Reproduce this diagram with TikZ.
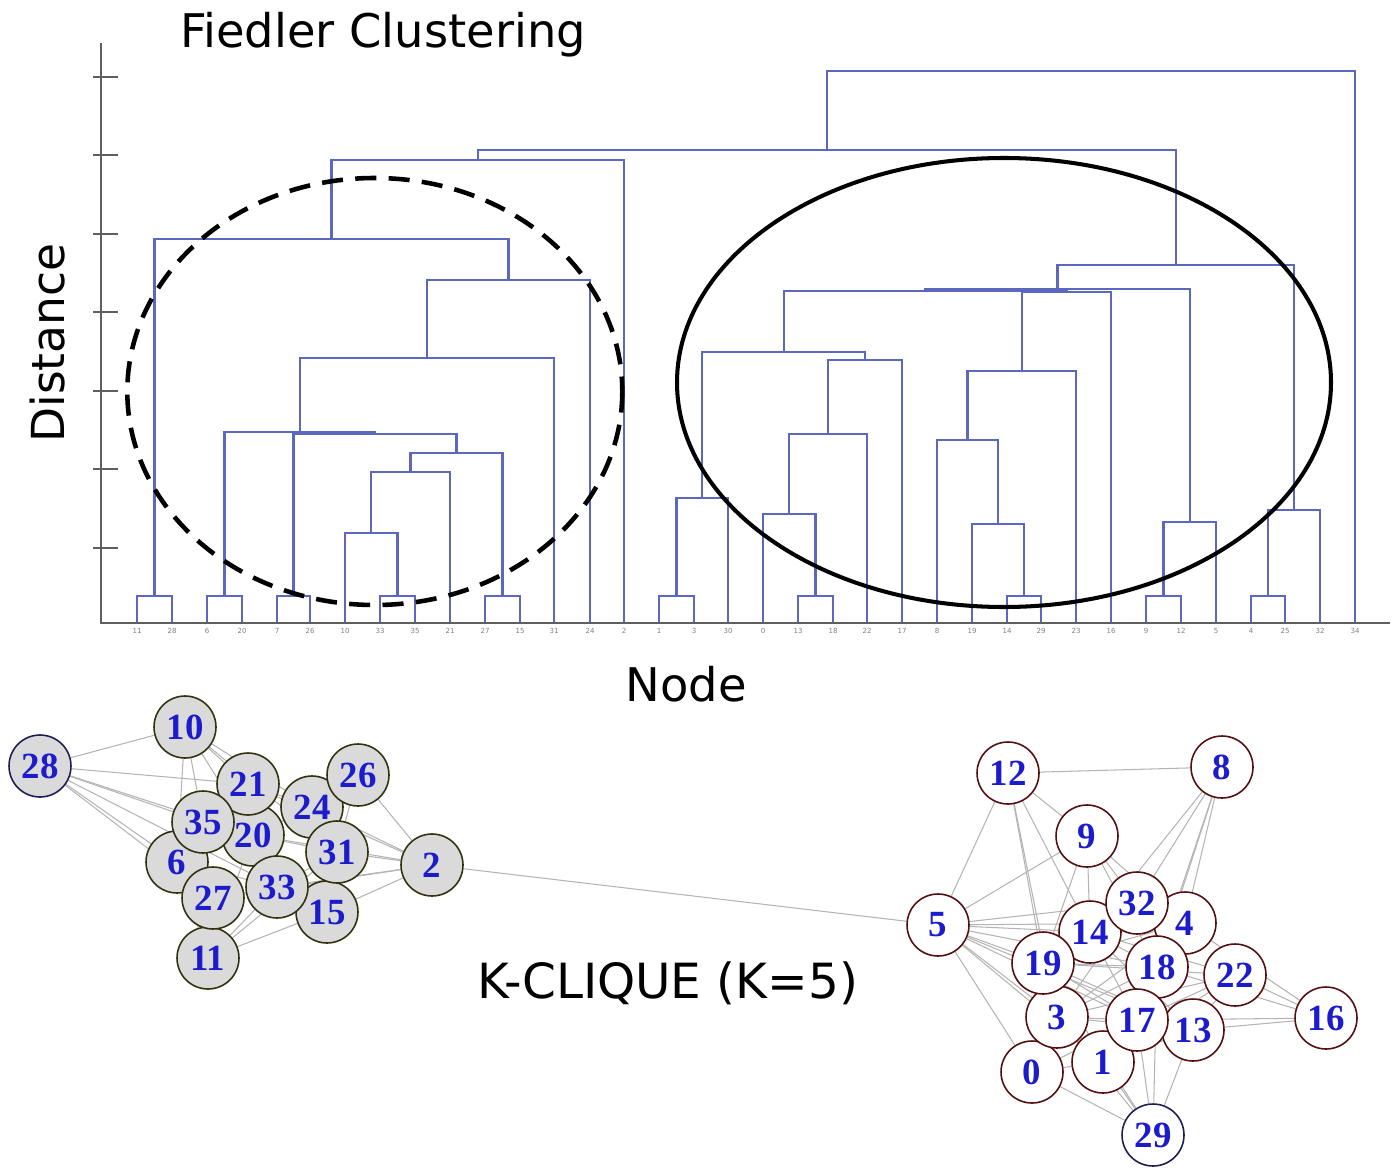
\documentclass[tikz,border=0pt]{standalone}
\usepackage{fontspec}
\setmainfont{DejaVu Sans}
\newfontfamily\numfont{Liberation Serif}
\usetikzlibrary{backgrounds}

\definecolor{dendro}{RGB}{92,104,190}
\definecolor{axisgray}{RGB}{95,95,95}
\definecolor{wiregray}{RGB}{180,180,180}
\definecolor{nodeblue}{RGB}{28,28,205}
\definecolor{oliverim}{RGB}{50,50,15}
\definecolor{redrim}{RGB}{85,15,15}
\definecolor{navyrim}{RGB}{30,30,85}
\definecolor{lightfill}{RGB}{218,218,218}

\begin{document}
\begin{tikzpicture}[x=0.02cm,y=-0.02cm]
		\tikzstyle{link} = [draw=dendro, line width=1.3pt]
		\tikzstyle{axisline} = [draw=axisgray, line width=1.7pt]
		\tikzstyle{tickmark} = [draw=axisgray, line width=1.1pt]
		\tikzstyle{leaflabel} = [text=gray, inner sep=0pt, font=\fontsize{4}{4}\selectfont]
		\tikzstyle{caption} = [inner sep=0pt, anchor=base, font=\fontsize{25.5}{30}\selectfont]
		\tikzstyle{wire} = [draw=wiregray, line width=0.6pt]
		\tikzstyle{vertex} = [circle, line width=0.9pt, minimum size=1.24cm, inner sep=0pt, text=nodeblue, font={\numfont\bfseries\fontsize{21}{21}\selectfont}]
		\tikzstyle{grayvertex} = [vertex, draw=oliverim, fill=lightfill]
		\tikzstyle{redvertex} = [vertex, draw=redrim, fill=white]

		\useasboundingbox (0,0) rectangle (1392,1169);

		% axes
		\draw[axisline] (101,43) -- (101,623) -- (1390,623);
		\foreach \t in {77,155,234,312,391,469,548}
			\draw[tickmark] (93,\t) -- (118,\t);
		\foreach \x/\lab in {137/11,172/28,207/6,242/20,277/7,310/26,345/10,380/33,415/35,450/21,485/27,520/15,554/31,590/24,624/2,
			659/1,694/3,728/30,763/0,798/13,833/18,867/22,902/17,937/8,972/19,1007/14,1041/29,1076/23,1111/16,1146/9,1181/12,1216/5,1251/4,1285/25,1320/32,1355/34}
			\node[leaflabel] (T\lab) at (\x,631) {\lab};

		% left part of the tree
		\draw[link] (137,622) |- (172,596) -- (172,622);
		\draw[link] (207,622) |- (242,596) -- (242,622);
		\draw[link] (277,622) |- (310,596) -- (310,622);
		\draw[link] (380,622) |- (415,596) -- (415,622);
		\draw[link] (485,622) |- (520,596) -- (520,622);
		\draw[link] (345,622) |- (397.5,533) -- (397.5,596);
		\draw[link] (371.3,533) |- (450,472) -- (450,622);
		\draw[link] (410.6,472) |- (502.5,453) -- (502.5,596);
		\draw[link] (293.5,596) |- (456.6,434) -- (456.6,453);
		\draw[link] (224.5,596) |- (375,432) -- (375,434);
		\draw[link] (299.8,432) |- (554,358) -- (554,622);
		\draw[link] (426.9,358) |- (590,280) -- (590,622);
		\draw[link] (154.5,596) |- (508.4,239) -- (508.4,280);
		\draw[link] (331.5,239) |- (624,160) -- (624,622);

		% right part of the tree
		\draw[link] (659,622) |- (694,596) -- (694,622);
		\draw[link] (798,622) |- (833,596) -- (833,622);
		\draw[link] (1007,622) |- (1041,596) -- (1041,622);
		\draw[link] (1146,622) |- (1181,596) -- (1181,622);
		\draw[link] (1251,622) |- (1285,596) -- (1285,622);
		\draw[link] (676.5,596) |- (728,498) -- (728,622);
		\draw[link] (763,622) |- (815.5,514) -- (815.5,596);
		\draw[link] (972,622) |- (1024,524) -- (1024,596);
		\draw[link] (1163.5,596) |- (1216,522) -- (1216,622);
		\draw[link] (1268,596) |- (1320,510) -- (1320,622);
		\draw[link] (789.3,514) |- (867,434) -- (867,622);
		\draw[link] (937,622) |- (998,440) -- (998,524);
		\draw[link] (828.1,434) |- (902,360) -- (902,622);
		\draw[link] (967.5,440) |- (1076,371) -- (1076,622);
		\draw[link] (702.3,498) |- (865.1,352) -- (865.1,360);
		\draw[link] (1021.8,371) |- (1111,292) -- (1111,622);
		\draw[link] (783.7,352) |- (1066.4,291) -- (1066.4,292);
		\draw[link] (925,291) |- (1189.8,289) -- (1189.8,522);
		\draw[link] (1057.4,289) |- (1294,265) -- (1294,510);

		% top joins
		\draw[link] (477.7,160) |- (1175.7,150) -- (1175.7,265);
		\draw[link] (826.7,150) |- (1355,71) -- (1355,622);

		% cluster rings
		\draw[black, line width=2.6pt, dash pattern=on 12pt off 7pt] (374.8,391.5) ellipse [x radius=247.5, y radius=213.5];
		\draw[black, line width=2.3pt] (1004,382.5) ellipse [x radius=327, y radius=224.5];

		\node[caption, font=\fontsize{26.4}{30}\selectfont] (Title) at (383,48) {Fiedler Clustering};
		\node[caption, rotate=90, font=\fontsize{25.9}{30}\selectfont] (YLabel) at (64,343) {Distance};
		\node[caption, font=\fontsize{26.4}{30}\selectfont] (XLabel) at (686,701) {Node};
		\node[caption, font=\fontsize{27.6}{30}\selectfont] (CliqueLabel) at (668,998) {K-CLIQUE (K=5)};

		% left community
		\node[grayvertex, draw=navyrim] (N28) at (40,766) {28};
		\node[grayvertex] (N10) at (185,727) {10};
		\node[grayvertex] (N2) at (432,865) {2};
		\node[grayvertex] (N11) at (208,958) {11};
		\node[grayvertex] (N6) at (177,862) {6};
		\node[grayvertex] (N20) at (253,835) {20};
		\node[grayvertex] (N21) at (248,784) {21};
		\node[grayvertex] (N24) at (312,807) {24};
		\node[grayvertex] (N26) at (358,775) {26};
		\node[grayvertex] (N15) at (327,912) {15};
		\node[grayvertex] (N31) at (337,852) {31};
		\node[grayvertex] (N35) at (203,822) {35};
		\node[grayvertex] (N33) at (277,887) {33};
		\node[grayvertex] (N27) at (213,898) {27};

		% right community
		\node[redvertex] (N12) at (1008,773) {12};
		\node[redvertex] (N8) at (1222,767) {8};
		\node[redvertex] (N9) at (1087,836) {9};
		\node[redvertex] (N5) at (938,925) {5};
		\node[redvertex] (N16) at (1326,1018) {16};
		\node[redvertex, draw=navyrim] (N29) at (1153,1135) {29};
		\node[redvertex] (N22) at (1235,975) {22};
		\node[redvertex] (N0) at (1032,1072) {0};
		\node[redvertex] (N13) at (1193,1030) {13};
		\node[redvertex] (N1) at (1103,1062) {1};
		\node[redvertex] (N3) at (1057,1017) {3};
		\node[redvertex] (N4) at (1185,923) {4};
		\node[redvertex] (N14) at (1090,932) {14};
		\node[redvertex] (N32) at (1137,903) {32};
		\node[redvertex] (N19) at (1043,963) {19};
		\node[redvertex] (N18) at (1157,967) {18};
		\node[redvertex] (N17) at (1137,1020) {17};

		\begin{scope}[on background layer]
			\foreach \a/\b in {28/10,28/21,28/35,28/20,28/6,28/27,28/33,10/35,10/21,10/20,10/24,10/6,10/31,
				26/2,26/24,26/31,24/2,31/2,33/2,15/2,20/2,21/2,27/2,11/27,11/33,11/15,11/20,11/31,11/6,
				35/20,35/6,21/24,20/31,6/33,27/33,33/31,33/15,20/24,2/5}
				\draw[wire] (N\a) -- (N\b);
			\foreach \a/\b in {12/8,12/5,12/9,12/19,12/14,12/3,9/5,9/14,9/19,9/32,9/18,9/4,
				8/32,8/14,8/4,8/18,8/17,5/14,5/32,5/19,5/18,5/3,5/17,5/1,5/0,5/13,5/4,
				16/22,16/18,16/13,16/17,16/4,29/0,29/1,29/3,29/17,29/13,29/18,29/19,
				0/3,0/19,0/1,0/17,19/18,14/18,3/18,3/17,19/17,14/17,14/13,19/13,3/13,1/18,1/13,
				4/19,4/3,22/3,22/19,22/14,22/1,22/13,22/17,32/3,32/19}
				\draw[wire] (N\a) -- (N\b);
		\end{scope}

	\end{tikzpicture}
\end{document}
